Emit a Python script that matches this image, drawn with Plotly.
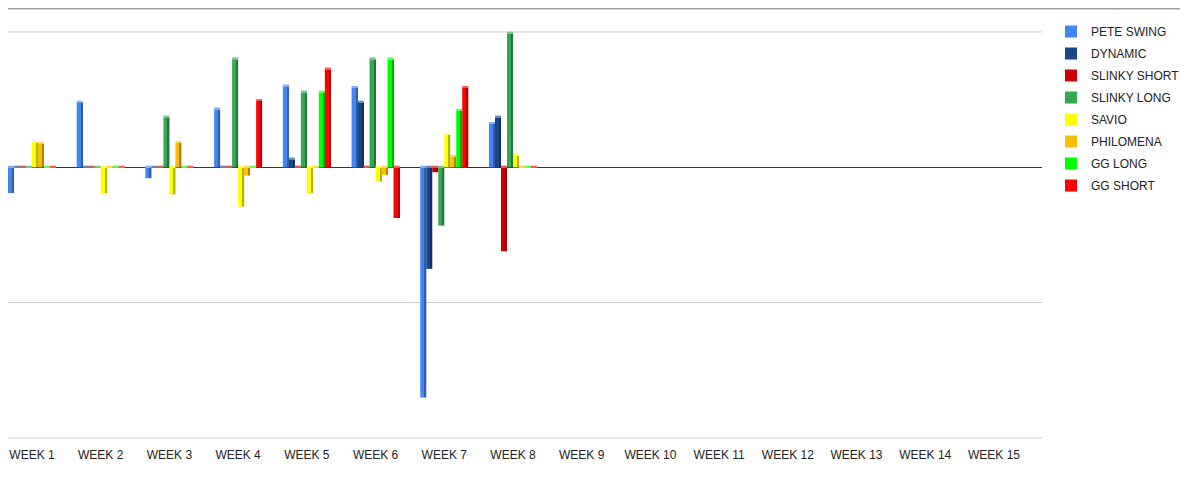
import plotly.graph_objects as go

weeks = ["WEEK 1", "WEEK 2", "WEEK 3", "WEEK 4", "WEEK 5", "WEEK 6", "WEEK 7", "WEEK 8",
         "WEEK 9", "WEEK 10", "WEEK 11", "WEEK 12", "WEEK 13", "WEEK 14", "WEEK 15"]

pete_swing = [-19, 48, -8, 43, 60, 59, -170, 32, None, None, None, None, None, None, None]
dynamic = [0, 0, 0, 0, 6, 48, -75, 37, None, None, None, None, None, None, None]
slinky_short = [0, 0, 0, 0, 0, 0, -3.6, -62, None, None, None, None, None, None, None]
slinky_long = [0, 0, 37, 80, 55.5, 80, -43, 99, None, None, None, None, None, None, None]
savio = [18, -19, -20, -29, -19, -10.5, 24, 8.5, None, None, None, None, None, None, None]
philomena = [17.5, 0, 18, -6, 0, -5.5, 7.7, 0, None, None, None, None, None, None, None]
gg_long = [0, 0, 0, 0, 55.5, 80, 42, 0, None, None, None, None, None, None, None]
gg_short = [0, 0, 0, 49, 72.5, -37.5, 59, 0, None, None, None, None, None, None, None]

series = [
    ("PETE SWING", pete_swing, "#4285f4"),
    ("DYNAMIC", dynamic, "#1c4587"),
    ("SLINKY SHORT", slinky_short, "#cc0000"),
    ("SLINKY LONG", slinky_long, "#34a853"),
    ("SAVIO", savio, "#ffff00"),
    ("PHILOMENA", philomena, "#fbbc04"),
    ("GG LONG", gg_long, "#00ff00"),
    ("GG SHORT", gg_short, "#ff0000"),
]


def shade(hex_color, f):
    r, g, b = (int(hex_color[i:i + 2], 16) for i in (1, 3, 5))
    if f < 1:
        r, g, b = (int(c * f) for c in (r, g, b))
    else:
        r, g, b = (int(c + (255 - c) * (f - 1)) for c in (r, g, b))
    return f"rgb({r},{g},{b})"


# faux 3D columns: front face, darker side, lighter top
slot = 0.0873
start = -0.349
front_w = 0.066
side_w = 0.0213
top_h = 1.2

fig = go.Figure()
for i, (name, vals, color) in enumerate(series):
    off = start + i * slot
    fig.add_trace(go.Bar(
        x=weeks, y=vals, name=name, legendgroup=name,
        offset=off, width=front_w,
        marker=dict(color=color, line=dict(width=0)),
    ))
    fig.add_trace(go.Bar(
        x=weeks, y=vals, name=name, legendgroup=name, showlegend=False,
        offset=off + front_w, width=side_w,
        marker=dict(color=shade(color, 0.7), line=dict(width=0)),
        hoverinfo="skip",
    ))
    fig.add_trace(go.Bar(
        x=weeks,
        y=[top_h if v is not None else None for v in vals],
        base=[max(v, 0) if v is not None else None for v in vals],
        name=name, legendgroup=name, showlegend=False,
        offset=off, width=front_w + side_w,
        marker=dict(color=shade(color, 1.35), line=dict(width=0)),
        hoverinfo="skip",
    ))

grid_lines = [
    dict(type="line", xref="paper", yref="y", x0=0, x1=1, y0=yv, y1=yv,
         layer="below", line=dict(color="#cccccc", width=1))
    for yv in (100, -200)
]

# page body adds an 8px offset, so the figure is sized and placed to compensate
fig.update_layout(
    width=1180,
    height=475,
    barmode="overlay",
    paper_bgcolor="white",
    plot_bgcolor="white",
    margin=dict(l=0, r=146, t=23, b=44),
    font=dict(family="Arial, Liberation Sans, sans-serif", size=12, color="#222222"),
    showlegend=True,
    legend=dict(
        x=1.0087, xanchor="left", y=1.0343, yanchor="top",
        font=dict(size=12, color="#222222"),
        tracegroupgap=3,
        bgcolor="rgba(0,0,0,0)",
    ),
    xaxis=dict(
        range=[-0.349, 14.699],
        showgrid=False,
        showline=False,
        ticks="outside", ticklen=5, tickcolor="white",
        tickfont=dict(size=12, color="#222222"),
        fixedrange=True,
    ),
    yaxis=dict(
        range=[-200.7, 100.7],
        dtick=100,
        showticklabels=False,
        showgrid=True,
        gridcolor="#cccccc",
        gridwidth=1,
        zeroline=True,
        zerolinecolor="#333333",
        zerolinewidth=1,
        fixedrange=True,
    ),
    shapes=grid_lines + [
        dict(type="line", xref="paper", yref="paper",
             x0=0, x1=1.15, y0=(431 - 0.75) / 408, y1=(431 - 0.75) / 408,
             line=dict(color="#a0a0a0", width=1.5)),
    ],
)

fig.write_html("out.html")
